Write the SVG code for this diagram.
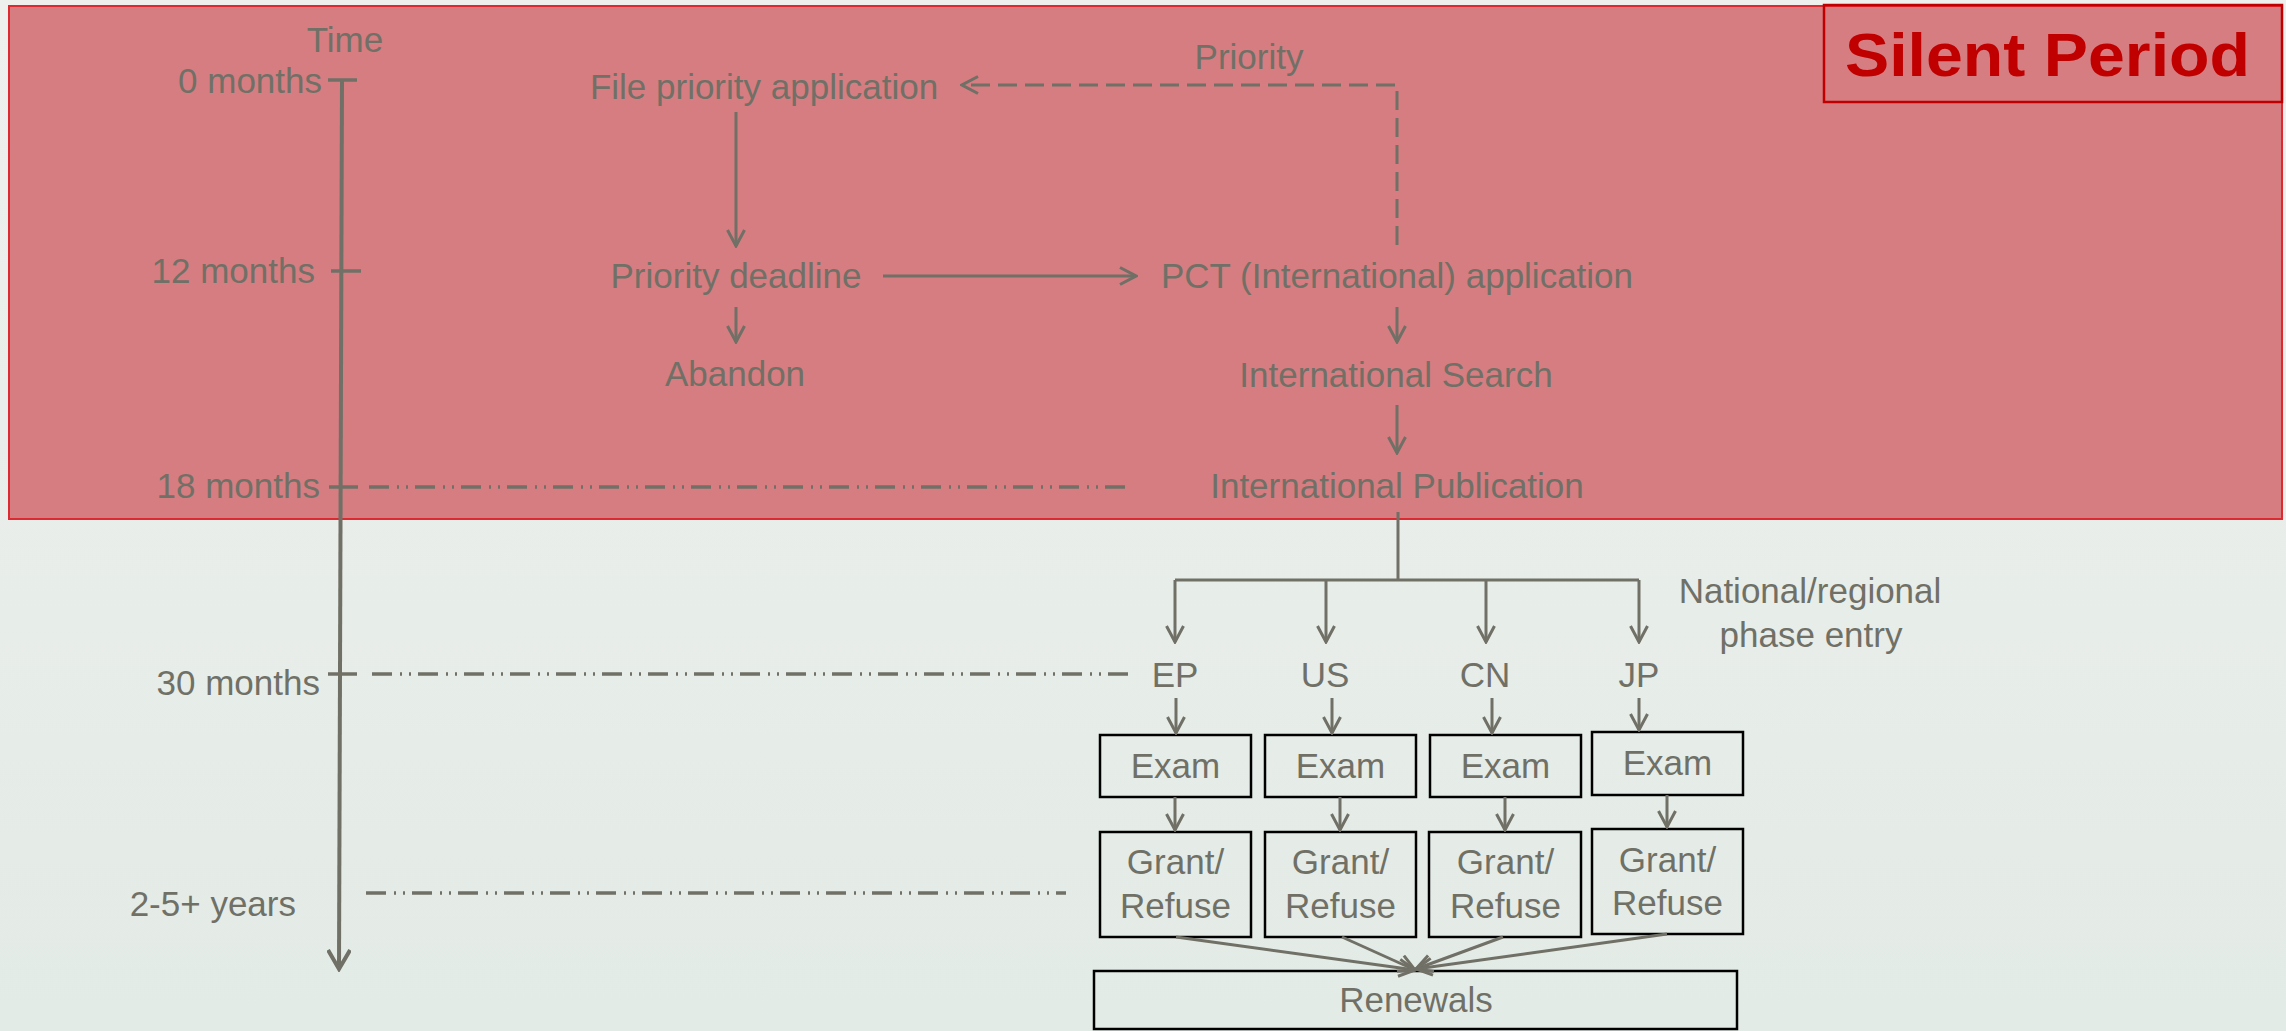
<svg xmlns="http://www.w3.org/2000/svg" width="2286" height="1031" viewBox="0 0 2286 1031">
  <defs>
    <linearGradient id="bg" x1="0" y1="0" x2="0" y2="1">
      <stop offset="0" stop-color="#EEF0EE"/>
      <stop offset="1" stop-color="#E3EBE6"/>
    </linearGradient>
    <marker id="arr" viewBox="0 0 20 20" refX="18" refY="10" markerWidth="20" markerHeight="20" markerUnits="userSpaceOnUse" orient="auto">
      <path d="M2,1.5 L18,10 L2,18.5" fill="none" stroke="#707066" stroke-width="3"/>
    </marker>
    <marker id="arrBig" viewBox="0 0 24 24" refX="21" refY="12" markerWidth="24" markerHeight="24" markerUnits="userSpaceOnUse" orient="auto">
      <path d="M2,1 L21,12 L2,23" fill="none" stroke="#707066" stroke-width="4"/>
    </marker>
    <style>
      .t { font-family: "Liberation Sans", Arial, sans-serif; font-size: 35px; fill: #707066; }
      .c { text-anchor: middle; }
      .e { text-anchor: end; }
      .ln { stroke: #707066; stroke-width: 3; fill: none; }
      .ar { stroke: #707066; stroke-width: 3; fill: none; marker-end: url(#arr); }
      .dd { stroke: #707066; stroke-width: 3.5; fill: none; stroke-dasharray: 20 8 2 7 2 7; }
      .box { fill: none; stroke: #000000; stroke-width: 2.5; }
      .tick { stroke: #707066; stroke-width: 3.5; }
    </style>
  </defs>

  <rect x="0" y="0" width="2286" height="1031" fill="url(#bg)"/>

  <g id="silent-region">
    <rect x="9" y="6" width="2273" height="513" fill="#D67D81" stroke="#DD2A30" stroke-width="2"/>
  </g>
  <g id="silent-label">
    <rect x="1824" y="5" width="458" height="97" fill="none" stroke="#C00000" stroke-width="2.5"/>
    <text x="1845" y="76" font-family="'Liberation Sans', Arial, sans-serif" font-size="62" font-weight="bold" fill="#C00000" textLength="405" lengthAdjust="spacingAndGlyphs">Silent Period</text>
  </g>

  <g id="timeline">
    <line x1="342" y1="80" x2="339" y2="969" stroke="#707066" stroke-width="4" marker-end="url(#arrBig)"/>
    <line class="tick" x1="328" y1="80" x2="357" y2="80"/>
    <line class="tick" x1="331" y1="271" x2="361" y2="271"/>
    <line class="tick" x1="329" y1="487" x2="358" y2="487"/>
    <line class="tick" x1="328" y1="674" x2="357" y2="674"/>
    <text class="t c" x="345" y="52">Time</text>
    <text class="t e" x="322" y="93">0 months</text>
    <text class="t e" x="315" y="283">12 months</text>
    <text class="t e" x="320" y="498">18 months</text>
    <text class="t e" x="320" y="695">30 months</text>
    <text class="t e" x="296" y="916">2-5+ years</text>
  </g>

  <g id="node-file"><text class="t c" x="764" y="99">File priority application</text></g>
  <g id="node-deadline"><text class="t c" x="736" y="288">Priority deadline</text></g>
  <g id="node-abandon"><text class="t c" x="735" y="386">Abandon</text></g>
  <g id="node-pct"><text class="t c" x="1397" y="288">PCT (International) application</text></g>
  <g id="node-search"><text class="t c" x="1396" y="387">International Search</text></g>
  <g id="node-publication"><text class="t c" x="1397" y="498">International Publication</text></g>
  <g id="label-priority"><text class="t c" x="1249" y="69">Priority</text></g>
  <g id="label-national"><text class="t c" x="1810" y="603">National/regional</text><text class="t c" x="1811" y="647">phase entry</text></g>

  <g id="node-ep"><text class="t c" x="1175" y="687">EP</text></g>
  <g id="node-us"><text class="t c" x="1325" y="687">US</text></g>
  <g id="node-cn"><text class="t c" x="1485" y="687">CN</text></g>
  <g id="node-jp"><text class="t c" x="1639" y="687">JP</text></g>

  <g id="exam-ep"><rect class="box" x="1100" y="735" width="151" height="62"/><text class="t c" x="1175.5" y="778">Exam</text></g>
  <g id="exam-us"><rect class="box" x="1265" y="735" width="151" height="62"/><text class="t c" x="1340.5" y="778">Exam</text></g>
  <g id="exam-cn"><rect class="box" x="1430" y="735" width="151" height="62"/><text class="t c" x="1505.5" y="778">Exam</text></g>
  <g id="exam-jp"><rect class="box" x="1592" y="732" width="151" height="63"/><text class="t c" x="1667.5" y="775">Exam</text></g>

  <g id="grant-ep"><rect class="box" x="1100" y="832" width="151" height="105"/><text class="t c" x="1175.5" y="874">Grant/</text><text class="t c" x="1175.5" y="918">Refuse</text></g>
  <g id="grant-us"><rect class="box" x="1265" y="832" width="151" height="105"/><text class="t c" x="1340.5" y="874">Grant/</text><text class="t c" x="1340.5" y="918">Refuse</text></g>
  <g id="grant-cn"><rect class="box" x="1429" y="832" width="152" height="105"/><text class="t c" x="1505.5" y="874">Grant/</text><text class="t c" x="1505.5" y="918">Refuse</text></g>
  <g id="grant-jp"><rect class="box" x="1592" y="829" width="151" height="105"/><text class="t c" x="1667.5" y="872">Grant/</text><text class="t c" x="1667.5" y="915">Refuse</text></g>

  <g id="renewals"><rect class="box" x="1094" y="971" width="643" height="58"/><text class="t c" x="1416" y="1012">Renewals</text></g>

  <g id="connectors">
    <line class="ar" x1="736" y1="112" x2="736" y2="246"/>
    <line class="ar" x1="736" y1="307" x2="736" y2="342"/>
    <line class="ar" x1="883" y1="276" x2="1136" y2="276"/>
    <path class="ar" d="M1397,245 V85 H962" stroke-dasharray="19 8"/>
    <line class="ar" x1="1397" y1="307" x2="1397" y2="342"/>
    <line class="ar" x1="1397" y1="405" x2="1397" y2="453"/>
    <line class="ln" x1="1398" y1="512" x2="1398" y2="580"/>
    <line class="ln" x1="1175" y1="580" x2="1639" y2="580"/>
    <line class="ar" x1="1175" y1="580" x2="1175" y2="642"/>
    <line class="ar" x1="1326" y1="580" x2="1326" y2="642"/>
    <line class="ar" x1="1486" y1="580" x2="1486" y2="642"/>
    <line class="ar" x1="1639" y1="580" x2="1639" y2="642"/>
    <line class="ar" x1="1176" y1="698" x2="1176" y2="733"/>
    <line class="ar" x1="1332" y1="698" x2="1332" y2="733"/>
    <line class="ar" x1="1492" y1="698" x2="1492" y2="733"/>
    <line class="ar" x1="1639" y1="698" x2="1639" y2="730"/>
    <line class="ar" x1="1175" y1="797" x2="1175" y2="830"/>
    <line class="ar" x1="1340" y1="797" x2="1340" y2="830"/>
    <line class="ar" x1="1505" y1="797" x2="1505" y2="830"/>
    <line class="ar" x1="1667" y1="795" x2="1667" y2="827"/>
    <line class="ar" x1="1176" y1="937" x2="1415" y2="970"/>
    <line class="ar" x1="1342" y1="937" x2="1415" y2="970"/>
    <line class="ar" x1="1503" y1="937" x2="1416" y2="969"/>
    <line class="ar" x1="1667" y1="934" x2="1416" y2="969"/>
    <line class="dd" x1="369" y1="487" x2="1131" y2="487"/>
    <line class="dd" x1="372" y1="674" x2="1133" y2="674"/>
    <line class="dd" x1="366" y1="893" x2="1066" y2="893" stroke-width="3"/>
  </g>
</svg>
